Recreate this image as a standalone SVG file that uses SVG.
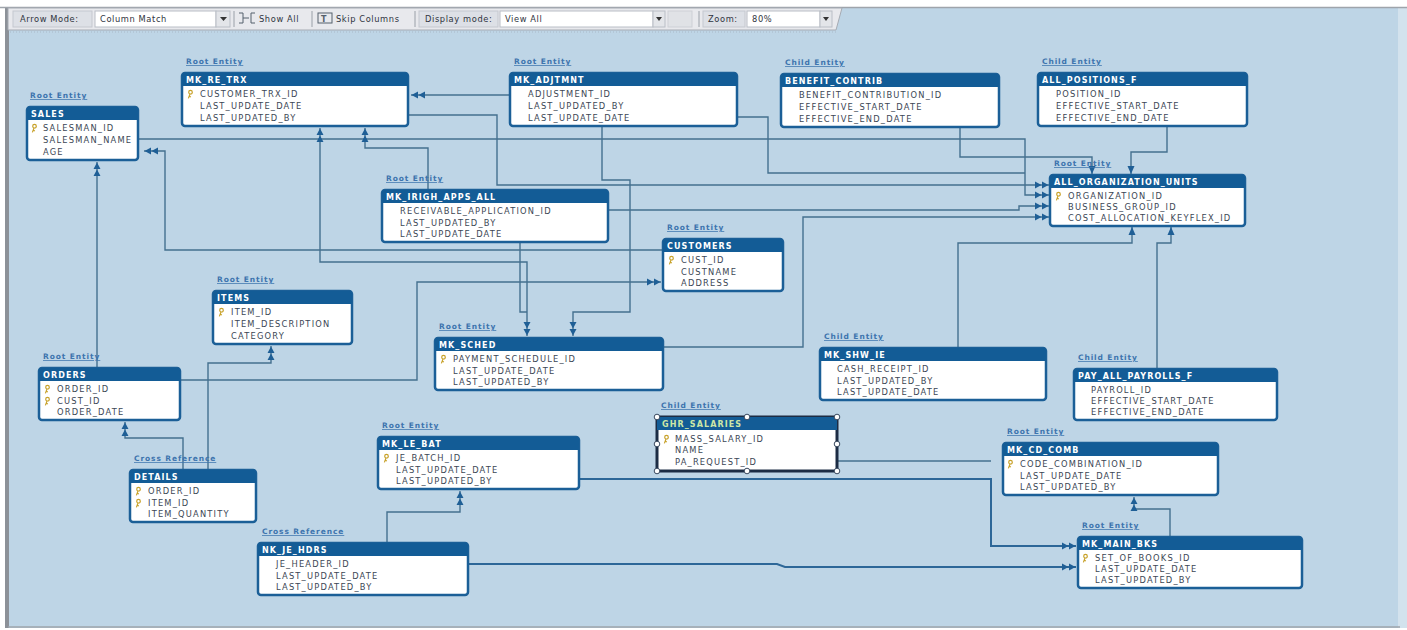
<svg xmlns="http://www.w3.org/2000/svg" width="1407" height="630" viewBox="0 0 1407 630">
<style>
.box{fill:#fff;stroke:#1b5f97;stroke-width:2.5}
.hdr{fill:#135c96}
.ht{font-family:"DejaVu Sans",sans-serif;font-weight:bold;font-size:8px;fill:#fff;letter-spacing:1.1px}
.rt{font-family:"DejaVu Sans",sans-serif;font-size:8.3px;fill:#3b4654;letter-spacing:1.2px}
.lbl{font-family:"DejaVu Sans",sans-serif;font-weight:bold;font-size:7.5px;fill:#3d74ae;letter-spacing:0.9px;text-decoration:underline}
.tb{font-family:"DejaVu Sans",sans-serif;font-size:8.3px;fill:#2f3440;letter-spacing:0.6px}
.cn{fill:none;stroke:#44708f;stroke-width:1.4}
.cn2{fill:none;stroke:#2d6798;stroke-width:2}
.fld{fill:#fff;stroke:#b9bec6}
.lb{fill:#dde0e6;stroke:#c4c8cf}
.btn{fill:#e3e5e9;stroke:#b9bec6}
.sep{stroke:#9aa0a8;stroke-width:1}
.hd{fill:#fff;stroke:#3a4a60;stroke-width:1}
</style>
<defs>
<marker id="dbl" viewBox="0 0 14 8" refX="14" refY="4" markerWidth="14" markerHeight="8" markerUnits="userSpaceOnUse" orient="auto-start-reverse">
<path d="M0,0.5 L6.5,4 L0,7.5 Z M7,0.5 L13.5,4 L7,7.5 Z" fill="#1f5f96"/>
</marker>
<marker id="sgl" viewBox="0 0 8 8" refX="8" refY="4" markerWidth="8" markerHeight="8" markerUnits="userSpaceOnUse" orient="auto">
<path d="M0,0.5 L8,4 L0,7.5 Z" fill="#1f5f96"/>
</marker>
<g id="key"><circle cx="0.5" cy="-1.8" r="1.8" fill="none" stroke="#c8a22a" stroke-width="1.2"/><path d="M0,0 L-1.6,4.4 M-0.7,2.3 L0.9,3" stroke="#c8a22a" stroke-width="1.2" fill="none"/></g>
</defs>

<rect x="0" y="0" width="1407" height="630" fill="#ffffff"/>
<rect x="8" y="8" width="1392" height="620" fill="#bed5e6"/>
<rect x="1398" y="8" width="9" height="620" fill="#d3e2ed"/>
<rect x="5" y="8" width="4" height="620" fill="#8c9198"/>
<line x1="0" y1="7.5" x2="1407" y2="7.5" stroke="#9ea4ab" stroke-width="1.5"/>
<line x1="8" y1="627" x2="1400" y2="627" stroke="#9ea4ab" stroke-width="1.5"/>

<g id="toolbar">
<path d="M8,8 H842 L836,30 H8 Z" fill="#e8e9ed" stroke="#a6abb3"/>
<line x1="10" y1="32" x2="836" y2="32" stroke="#a9b9c8" stroke-dasharray="1 2"/>
<rect class="lb" x="13" y="11" width="79" height="16"/>
<text class="tb" x="20" y="22">Arrow Mode:</text>
<rect class="fld" x="95" y="11" width="121" height="16"/>
<text class="tb" x="100" y="22">Column Match</text>
<rect class="btn" x="216" y="11" width="14" height="16"/>
<path d="M220,17 H227 L223.5,21 Z" fill="#333"/>
<line class="sep" x1="234" y1="11" x2="234" y2="27"/>
<path d="M239,13 h4 v10 h-4 M243,18 h6 M255,13 h-4 v10 h4" fill="none" stroke="#55606c" stroke-width="1"/>
<text class="tb" x="259" y="22">Show All</text>
<line class="sep" x1="312" y1="11" x2="312" y2="27"/>
<rect x="318" y="13" width="14" height="10" fill="none" stroke="#55606c"/>
<text x="321" y="21.5" font-family="DejaVu Sans,sans-serif" font-size="8" font-weight="bold" fill="#55606c">T</text>
<text class="tb" x="336" y="22">Skip Columns</text>
<line class="sep" x1="415" y1="11" x2="415" y2="27"/>
<rect class="lb" x="419" y="11" width="79" height="16"/>
<text class="tb" x="425" y="22">Display mode:</text>
<rect class="fld" x="500" y="11" width="153" height="16"/>
<text class="tb" x="505" y="22">View All</text>
<rect class="btn" x="653" y="11" width="12" height="16"/>
<path d="M656,17 H662 L659,21 Z" fill="#333"/>
<rect x="668" y="11" width="24" height="16" fill="#e0e2e6" stroke="#cdd0d6"/>
<line class="sep" x1="699" y1="11" x2="699" y2="27"/>
<rect class="lb" x="703" y="11" width="42" height="16"/>
<text class="tb" x="708" y="22">Zoom:</text>
<rect class="fld" x="747" y="11" width="73" height="16"/>
<text class="tb" x="752" y="22">80%</text>
<rect class="btn" x="820" y="11" width="12" height="16"/>
<path d="M823,17 H829 L826,21 Z" fill="#333"/>
</g>

<g id="connectors">
<path class="cn" d="M510,95 H411" marker-end="url(#dbl)"/>
<path class="cn" d="M138,139 H1025 V195 H1049" marker-end="url(#dbl)"/>
<path class="cn" d="M408,115 H497 V185 H1049" marker-end="url(#dbl)"/>
<path class="cn" d="M737,117 H768 V173 H1025"/>
<path class="cn" d="M608,210 H1019 V206 H1049" marker-end="url(#dbl)"/>
<path class="cn" d="M663,347 H803 V217 H1049" marker-end="url(#dbl)"/>
<path class="cn" d="M960,127 V157 H1092 V174" marker-end="url(#sgl)"/>
<path class="cn" d="M1167,126 V152 H1131 V174" marker-end="url(#sgl)"/>
<path class="cn" d="M958,348 V243 H1132 V227" marker-end="url(#sgl)"/>
<path class="cn" d="M1157,369 V243 H1171 V227" marker-end="url(#sgl)"/>
<path class="cn" d="M663,250 H165 V151 H144" marker-end="url(#dbl)"/>
<path class="cn" d="M428,190 V148 H365 V128" marker-end="url(#dbl)"/>
<path class="cn" d="M527,336 V262 H320 V128" marker-start="url(#dbl)" marker-end="url(#dbl)"/>
<path class="cn" d="M520,241 V312 H527"/>
<path class="cn" d="M602,125 V180 H630 V312 H573 V336" marker-end="url(#dbl)"/>
<path class="cn" d="M97,368 V162" marker-end="url(#dbl)"/>
<path class="cn" d="M208,470 V363 H271 V346" marker-end="url(#dbl)"/>
<path class="cn" d="M183,470 V438 H125 V422" marker-end="url(#dbl)"/>
<path class="cn" d="M180,380 H417 V282 H661" marker-end="url(#dbl)"/>
<path class="cn" d="M387,543 V512 H460 V491" marker-end="url(#dbl)"/>
<path class="cn2" d="M580,479 H991 V546 H1076" marker-end="url(#dbl)"/>
<path class="cn" d="M837,461 H991"/>
<path class="cn2" d="M468,564 H777 L785,567 H1076" marker-end="url(#dbl)"/>
<path class="cn" d="M1170,537 V509 H1134 V497" marker-end="url(#dbl)"/>
</g>

<g id="e-sales" transform="translate(27,107)">
<text class="lbl" x="3" y="-9">Root Entity</text>
<rect class="box" width="111" height="53" rx="3"/>
<path class="hdr" d="M0,13V3Q0,0 3,0H108Q111,0 111,3V13Z"/>
<text class="ht" x="4" y="10">SALES</text>
<use href="#key" x="7" y="21"/>
<text class="rt" x="16" y="24">SALESMAN_ID</text>
<text class="rt" x="16" y="36">SALESMAN_NAME</text>
<text class="rt" x="16" y="48">AGE</text>
</g>

<g id="e-mk_re_trx" transform="translate(182,73)">
<text class="lbl" x="4" y="-9">Root Entity</text>
<rect class="box" width="226" height="53" rx="3"/>
<path class="hdr" d="M0,13V3Q0,0 3,0H223Q226,0 226,3V13Z"/>
<text class="ht" x="4" y="10">MK_RE_TRX</text>
<use href="#key" x="8" y="21"/>
<text class="rt" x="18" y="24">CUSTOMER_TRX_ID</text>
<text class="rt" x="18" y="36">LAST_UPDATE_DATE</text>
<text class="rt" x="18" y="48">LAST_UPDATED_BY</text>
</g>

<g id="e-mk_adjtmnt" transform="translate(510,73)">
<text class="lbl" x="4" y="-9">Root Entity</text>
<rect class="box" width="227" height="53" rx="3"/>
<path class="hdr" d="M0,13V3Q0,0 3,0H224Q227,0 227,3V13Z"/>
<text class="ht" x="4" y="10">MK_ADJTMNT</text>
<text class="rt" x="18" y="24">ADJUSTMENT_ID</text>
<text class="rt" x="18" y="36">LAST_UPDATED_BY</text>
<text class="rt" x="18" y="48">LAST_UPDATE_DATE</text>
</g>

<g id="e-benefit_contrib" transform="translate(781,74)">
<text class="lbl" x="4" y="-9">Child Entity</text>
<rect class="box" width="218" height="53" rx="3"/>
<path class="hdr" d="M0,13V3Q0,0 3,0H215Q218,0 218,3V13Z"/>
<text class="ht" x="4" y="10">BENEFIT_CONTRIB</text>
<text class="rt" x="18" y="24">BENEFIT_CONTRIBUTION_ID</text>
<text class="rt" x="18" y="36">EFFECTIVE_START_DATE</text>
<text class="rt" x="18" y="48">EFFECTIVE_END_DATE</text>
</g>

<g id="e-all_positions_f" transform="translate(1038,73)">
<text class="lbl" x="4" y="-9">Child Entity</text>
<rect class="box" width="209" height="53" rx="3"/>
<path class="hdr" d="M0,13V3Q0,0 3,0H206Q209,0 209,3V13Z"/>
<text class="ht" x="4" y="10">ALL_POSITIONS_F</text>
<text class="rt" x="18" y="24">POSITION_ID</text>
<text class="rt" x="18" y="36">EFFECTIVE_START_DATE</text>
<text class="rt" x="18" y="48">EFFECTIVE_END_DATE</text>
</g>

<g id="e-all_organization_units" transform="translate(1050,175)">
<text class="lbl" x="4" y="-9">Root Entity</text>
<rect class="box" width="195" height="51" rx="3"/>
<path class="hdr" d="M0,13V3Q0,0 3,0H192Q195,0 195,3V13Z"/>
<text class="ht" x="4" y="10">ALL_ORGANIZATION_UNITS</text>
<use href="#key" x="8" y="21"/>
<text class="rt" x="18" y="24">ORGANIZATION_ID</text>
<text class="rt" x="18" y="35">BUSINESS_GROUP_ID</text>
<text class="rt" x="18" y="46">COST_ALLOCATION_KEYFLEX_ID</text>
</g>

<g id="e-mk_irigh_apps_all" transform="translate(382,190)">
<text class="lbl" x="4" y="-9">Root Entity</text>
<rect class="box" width="226" height="52" rx="3"/>
<path class="hdr" d="M0,13V3Q0,0 3,0H223Q226,0 226,3V13Z"/>
<text class="ht" x="4" y="10">MK_IRIGH_APPS_ALL</text>
<text class="rt" x="18" y="24">RECEIVABLE_APPLICATION_ID</text>
<text class="rt" x="18" y="36">LAST_UPDATED_BY</text>
<text class="rt" x="18" y="47">LAST_UPDATE_DATE</text>
</g>

<g id="e-customers" transform="translate(663,239)">
<text class="lbl" x="4" y="-9">Root Entity</text>
<rect class="box" width="120" height="52" rx="3"/>
<path class="hdr" d="M0,13V3Q0,0 3,0H117Q120,0 120,3V13Z"/>
<text class="ht" x="4" y="10">CUSTOMERS</text>
<use href="#key" x="8" y="21"/>
<text class="rt" x="18" y="24">CUST_ID</text>
<text class="rt" x="18" y="36">CUSTNAME</text>
<text class="rt" x="18" y="47">ADDRESS</text>
</g>

<g id="e-items" transform="translate(213,291)">
<text class="lbl" x="4" y="-9">Root Entity</text>
<rect class="box" width="139" height="53" rx="3"/>
<path class="hdr" d="M0,13V3Q0,0 3,0H136Q139,0 139,3V13Z"/>
<text class="ht" x="4" y="10">ITEMS</text>
<use href="#key" x="8" y="21"/>
<text class="rt" x="18" y="24">ITEM_ID</text>
<text class="rt" x="18" y="36">ITEM_DESCRIPTION</text>
<text class="rt" x="18" y="48">CATEGORY</text>
</g>

<g id="e-mk_sched" transform="translate(435,338)">
<text class="lbl" x="4" y="-9">Root Entity</text>
<rect class="box" width="228" height="52" rx="3"/>
<path class="hdr" d="M0,13V3Q0,0 3,0H225Q228,0 228,3V13Z"/>
<text class="ht" x="4" y="10">MK_SCHED</text>
<use href="#key" x="8" y="21"/>
<text class="rt" x="18" y="24">PAYMENT_SCHEDULE_ID</text>
<text class="rt" x="18" y="36">LAST_UPDATE_DATE</text>
<text class="rt" x="18" y="47">LAST_UPDATED_BY</text>
</g>

<g id="e-mk_shw_ie" transform="translate(820,348)">
<text class="lbl" x="4" y="-9">Child Entity</text>
<rect class="box" width="226" height="52" rx="3"/>
<path class="hdr" d="M0,13V3Q0,0 3,0H223Q226,0 226,3V13Z"/>
<text class="ht" x="4" y="10">MK_SHW_IE</text>
<text class="rt" x="17" y="24">CASH_RECEIPT_ID</text>
<text class="rt" x="17" y="36">LAST_UPDATED_BY</text>
<text class="rt" x="17" y="47">LAST_UPDATE_DATE</text>
</g>

<g id="e-pay_all_payrolls_f" transform="translate(1074,369)">
<text class="lbl" x="4" y="-9">Child Entity</text>
<rect class="box" width="203" height="51" rx="3"/>
<path class="hdr" d="M0,13V3Q0,0 3,0H200Q203,0 203,3V13Z"/>
<text class="ht" x="4" y="10">PAY_ALL_PAYROLLS_F</text>
<text class="rt" x="17" y="24">PAYROLL_ID</text>
<text class="rt" x="17" y="35">EFFECTIVE_START_DATE</text>
<text class="rt" x="17" y="46">EFFECTIVE_END_DATE</text>
</g>

<g id="e-orders" transform="translate(39,368)">
<text class="lbl" x="4" y="-9">Root Entity</text>
<rect class="box" width="141" height="52" rx="3"/>
<path class="hdr" d="M0,13V3Q0,0 3,0H138Q141,0 141,3V13Z"/>
<text class="ht" x="4" y="10">ORDERS</text>
<use href="#key" x="8" y="21"/>
<text class="rt" x="18" y="24">ORDER_ID</text>
<use href="#key" x="8" y="33"/>
<text class="rt" x="18" y="36">CUST_ID</text>
<text class="rt" x="18" y="47">ORDER_DATE</text>
</g>

<g id="e-details" transform="translate(130,470)">
<text class="lbl" x="4" y="-9">Cross Reference</text>
<rect class="box" width="126" height="52" rx="3"/>
<path class="hdr" d="M0,13V3Q0,0 3,0H123Q126,0 126,3V13Z"/>
<text class="ht" x="4" y="10">DETAILS</text>
<use href="#key" x="8" y="21"/>
<text class="rt" x="18" y="24">ORDER_ID</text>
<use href="#key" x="8" y="33"/>
<text class="rt" x="18" y="36">ITEM_ID</text>
<text class="rt" x="18" y="47">ITEM_QUANTITY</text>
</g>

<g id="e-mk_le_bat" transform="translate(378,437)">
<text class="lbl" x="4" y="-9">Root Entity</text>
<rect class="box" width="201" height="52" rx="3"/>
<path class="hdr" d="M0,13V3Q0,0 3,0H198Q201,0 201,3V13Z"/>
<text class="ht" x="4" y="10">MK_LE_BAT</text>
<use href="#key" x="8" y="21"/>
<text class="rt" x="18" y="24">JE_BATCH_ID</text>
<text class="rt" x="18" y="36">LAST_UPDATE_DATE</text>
<text class="rt" x="18" y="47">LAST_UPDATED_BY</text>
</g>

<g id="e-ghr_salaries" transform="translate(657,417)">
<text class="lbl" x="4" y="-9">Child Entity</text>
<rect x="0" y="0" width="180" height="54" fill="#fff" stroke="#1c2c44" stroke-width="3"/>
<rect x="0" y="0" width="180" height="13" fill="#135c96"/>
<text class="ht" x="5" y="10" style="fill:#cde7a6">GHR_SALARIES</text>
<use href="#key" x="9" y="22"/>
<text class="rt" x="18" y="25">MASS_SALARY_ID</text>
<text class="rt" x="18" y="36">NAME</text>
<text class="rt" x="18" y="48">PA_REQUEST_ID</text>
<circle class="hd" cx="0" cy="0" r="2.8"/>
<circle class="hd" cx="90" cy="0" r="2.8"/>
<circle class="hd" cx="180" cy="0" r="2.8"/>
<circle class="hd" cx="0" cy="27" r="2.8"/>
<circle class="hd" cx="180" cy="27" r="2.8"/>
<circle class="hd" cx="0" cy="54" r="2.8"/>
<circle class="hd" cx="90" cy="54" r="2.8"/>
<circle class="hd" cx="180" cy="54" r="2.8"/>
</g>

<g id="e-mk_cd_comb" transform="translate(1003,443)">
<text class="lbl" x="4" y="-9">Root Entity</text>
<rect class="box" width="215" height="52" rx="3"/>
<path class="hdr" d="M0,13V3Q0,0 3,0H212Q215,0 215,3V13Z"/>
<text class="ht" x="4" y="10">MK_CD_COMB</text>
<use href="#key" x="7" y="21"/>
<text class="rt" x="17" y="24">CODE_COMBINATION_ID</text>
<text class="rt" x="17" y="36">LAST_UPDATE_DATE</text>
<text class="rt" x="17" y="47">LAST_UPDATED_BY</text>
</g>

<g id="e-mk_main_bks" transform="translate(1078,537)">
<text class="lbl" x="4" y="-9">Root Entity</text>
<rect class="box" width="224" height="51" rx="3"/>
<path class="hdr" d="M0,13V3Q0,0 3,0H221Q224,0 224,3V13Z"/>
<text class="ht" x="4" y="10">MK_MAIN_BKS</text>
<use href="#key" x="7" y="21"/>
<text class="rt" x="17" y="24">SET_OF_BOOKS_ID</text>
<text class="rt" x="17" y="35">LAST_UPDATE_DATE</text>
<text class="rt" x="17" y="46">LAST_UPDATED_BY</text>
</g>

<g id="e-nk_je_hdrs" transform="translate(258,543)">
<text class="lbl" x="4" y="-9">Cross Reference</text>
<rect class="box" width="210" height="52" rx="3"/>
<path class="hdr" d="M0,13V3Q0,0 3,0H207Q210,0 210,3V13Z"/>
<text class="ht" x="4" y="10">NK_JE_HDRS</text>
<text class="rt" x="18" y="24">JE_HEADER_ID</text>
<text class="rt" x="18" y="36">LAST_UPDATE_DATE</text>
<text class="rt" x="18" y="47">LAST_UPDATED_BY</text>
</g>
</svg>
